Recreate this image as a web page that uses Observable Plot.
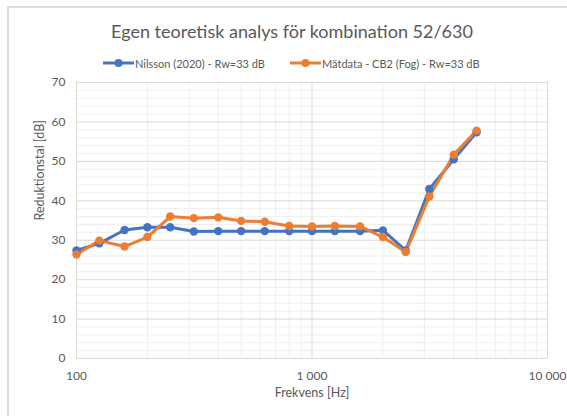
<!DOCTYPE html>
<html>
<head>
<meta charset="utf-8">
<script src="https://cdn.jsdelivr.net/npm/d3@7"></script>
<script src="https://cdn.jsdelivr.net/npm/@observablehq/plot@0.6"></script>
<style>
  html, body { margin: 0; padding: 0; background: #fff; overflow: hidden; width: 567px; height: 416px; }
  body { position: relative; font-family: Lato, "Open Sans", sans-serif; color: #595959; }
  #frame { position: absolute; left: 7px; top: 6px; width: 600px; height: 440px; border: 2px solid #dcdcdc; box-sizing: border-box; pointer-events: none; }
  #title { position: absolute; left: 0; top: 20px; width: 584px; text-align: center; font-size: 18px; color: #595959; white-space: nowrap; }
  #legend { position: absolute; left: 0; top: 55px; width: 584px; height: 16px; font-size: 11px; color: #595959; white-space: nowrap; }
  .item { position: absolute; top: 0; display: flex; align-items: center; height: 16px; }
  .item svg { display: block; }
  #chart { position: absolute; left: 0; top: 72px; }
</style>
</head>
<body>
<div id="title">Egen teoretisk analys för kombination 52/630</div>
<div id="legend"></div>
<div id="chart"></div>
<div id="frame"></div>
<script>
// Data
const frequencies = [100, 125, 160, 200, 250, 315, 400, 500, 630, 800, 1000, 1250, 1600, 2000, 2500, 3150, 4000, 5000];
const nilsson  = [27.4, 29.2, 32.6, 33.3, 33.3, 32.2, 32.3, 32.3, 32.3, 32.3, 32.3, 32.3, 32.3, 32.5, 27.4, 43.0, 50.5, 57.4];
const matdata  = [26.4, 29.9, 28.4, 30.8, 36.0, 35.6, 35.8, 34.9, 34.7, 33.6, 33.5, 33.6, 33.5, 30.8, 27.0, 41.1, 51.7, 57.8];
const seriesNames = ["Nilsson (2020) - Rw=33 dB", "Mätdata - CB2 (Fog) - Rw=33 dB"];
const seriesColors = ["#4472C4", "#ED7D31"];
const xTicks = [100, 1000, 10000];
const xMinor = [200, 300, 400, 500, 600, 700, 800, 900, 2000, 3000, 4000, 5000, 6000, 7000, 8000, 9000];
const yTicks = [0, 10, 20, 30, 40, 50, 60, 70];
const yMinor = [2, 4, 6, 8, 12, 14, 16, 18, 22, 24, 26, 28, 32, 34, 36, 38, 42, 44, 46, 48, 52, 54, 56, 58, 62, 64, 66, 68];
const xLabel = "Frekvens [Hz]";
const yLabel = "Reduktionstal [dB]";

const rows = [];
frequencies.forEach((f, i) => {
  rows.push({f, v: nilsson[i], s: seriesNames[0]});
});
frequencies.forEach((f, i) => {
  rows.push({f, v: matdata[i], s: seriesNames[1]});
});

// Legend
const legend = document.getElementById("legend");
const legendPos = [103, 290];
seriesNames.forEach((name, i) => {
  const d = document.createElement("div");
  d.className = "item";
  d.style.left = legendPos[i] + "px";
  d.innerHTML = `<svg width="31" height="16"><line x1="0" y1="8" x2="31" y2="8" stroke="${seriesColors[i]}" stroke-width="3"/><circle cx="15.5" cy="8" r="4" fill="${seriesColors[i]}"/></svg><span style="margin-left:1px">${name}</span>`;
  legend.appendChild(d);
});

const fmt = d => d3.format(",")(d).replace(/,/g, "\u00A0");

const chart = Plot.plot({
  width: 567,
  height: 344,
  marginLeft: 76,
  marginRight: 20,
  marginTop: 10,
  marginBottom: 58,
  style: { fontFamily: "Lato, 'Open Sans', sans-serif", fontSize: "12px", color: "#595959", background: "transparent" },
  x: { type: "log", domain: [100, 10000] },
  y: { domain: [0, 70] },
  color: { domain: seriesNames, range: seriesColors },
  marks: [
    Plot.ruleY(yMinor, { stroke: "#efefef", strokeWidth: 1 }),
    Plot.ruleX(xMinor, { stroke: "#efefef", strokeWidth: 1 }),
    Plot.ruleY(yTicks, { stroke: "#d9d9d9", strokeWidth: 1 }),
    Plot.ruleX(xTicks, { stroke: "#d9d9d9", strokeWidth: 1 }),
    Plot.axisY(yTicks, { tickSize: 0, tickPadding: 11, fontSize: 12, label: null, fill: "#595959" }),
    Plot.axisX(xTicks, { tickSize: 0, tickPadding: 13, fontSize: 12, tickFormat: fmt, label: null, fill: "#595959" }),
    Plot.text([yLabel], { frameAnchor: "left", dx: -37, rotate: -90, fontSize: 12.5, fill: "#595959" }),
    Plot.text([xLabel], { frameAnchor: "bottom", dy: 38, fontSize: 12.5, fill: "#595959" }),
    Plot.line(rows, { x: "f", y: "v", z: "s", stroke: "s", strokeWidth: 3 }),
    Plot.dot(rows, { x: "f", y: "v", fill: "s", r: 4.2 })
  ]
});
document.getElementById("chart").appendChild(chart);
</script>
</body>
</html>
